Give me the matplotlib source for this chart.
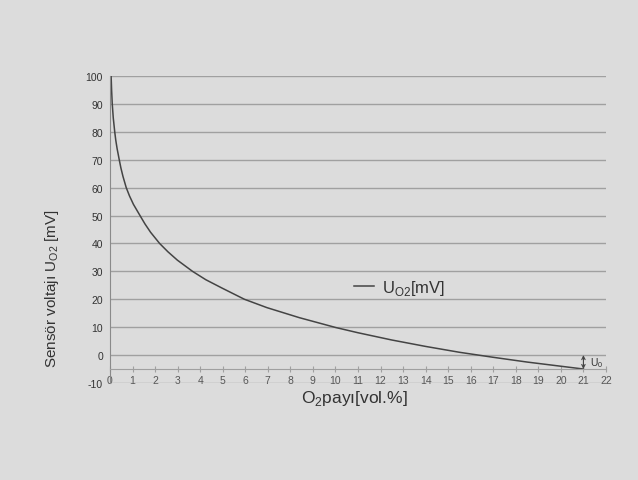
import matplotlib
matplotlib.use('Agg')
import matplotlib.pyplot as plt

plt.rcParams['font.family'] = ['Liberation Sans', 'DejaVu Sans']
plt.rcParams['axes.unicode_minus'] = False

# values
o2_share = [0.05, 0.071, 0.10, 0.145, 0.21, 0.256, 0.315, 0.41, 0.485, 0.576, 0.72,
            0.866, 1.04, 1.33, 1.55, 1.80, 2.2, 2.57, 2.99, 3.66, 4.25, 4.97, 5.96,
            6.96, 8.4, 10.0, 11.0, 12.5, 14.0, 15.5, 17.0, 18.5, 20.0, 21.0]
u_o2 = [100, 95, 90, 85, 80, 77, 74, 70, 67, 64, 60,
        57, 54, 50, 47, 44, 40, 37, 34, 30, 27, 24, 20,
        17, 13.4, 9.9, 8.0, 5.4, 3.1, 1.0, -0.8, -2.5, -4.0, -5.0]

x_ticks = list(range(0, 23))
y_ticks = [-10, 0, 10, 20, 30, 40, 50, 60, 70, 80, 90, 100]
u0_top = 0
u0_bottom = -5

bg = '#dcdcdc'
txt = '#333333'
grid_c = '#a0a0a0'

fig = plt.figure(figsize=(6.38, 4.81), dpi=100, facecolor=bg)
ax = fig.add_axes([0.1724, 0.2017, 0.7774, 0.6383], facecolor=bg)

ax.plot(o2_share, u_o2, color='#444444', lw=1.1, label=r'U$_{\mathregular{O2}}$[mV]')

ax.set_xlim(0, 22)
ax.set_ylim(-10, 100)
ax.set_xticks(x_ticks)
ax.set_yticks(y_ticks)
ax.grid(axis='y', color=grid_c, lw=1)
ax.set_axisbelow(True)

for s in ['top', 'right']:
    ax.spines[s].set_visible(False)
ax.spines['left'].set_color('#8a8a8a')
ax.spines['bottom'].set_color(grid_c)
ax.spines['bottom'].set_position(('data', -5))

ax.tick_params(axis='y', length=0, pad=5, labelsize=7.5, labelcolor=txt)
ax.tick_params(axis='x', direction='inout', length=5, color=grid_c, pad=1.5,
               labelsize=7.5, labelcolor='#555555')

# U0 offset marker
ax.annotate('', xy=(21, u0_bottom), xytext=(21, u0_top),
            arrowprops=dict(arrowstyle='<->', color='#444444', lw=0.8,
                            shrinkA=0, shrinkB=0, mutation_scale=6))
ax.text(21.3, (u0_top + u0_bottom) / 2, r'U$_{\mathregular{0}}$', fontsize=7.5,
        color=txt, va='center', ha='left')

leg = ax.legend(loc='center left', bbox_to_anchor=(0.462, 0.31), frameon=False,
                fontsize=12, handlelength=1.2, handletextpad=0.5)
for t in leg.get_texts():
    t.set_color(txt)

fig.text(0.555, 0.172, r'O$_{\mathregular{2}}$payı[vol.%]', fontsize=12.5,
         color=txt, ha='center', va='center')
fig.text(0.082, 0.40, r'Sensör voltajı U$_{\mathregular{O2}}$ [mV]', fontsize=11,
         color=txt, ha='center', va='center', rotation=90)

fig.savefig('out.png', dpi=100, facecolor=bg)
